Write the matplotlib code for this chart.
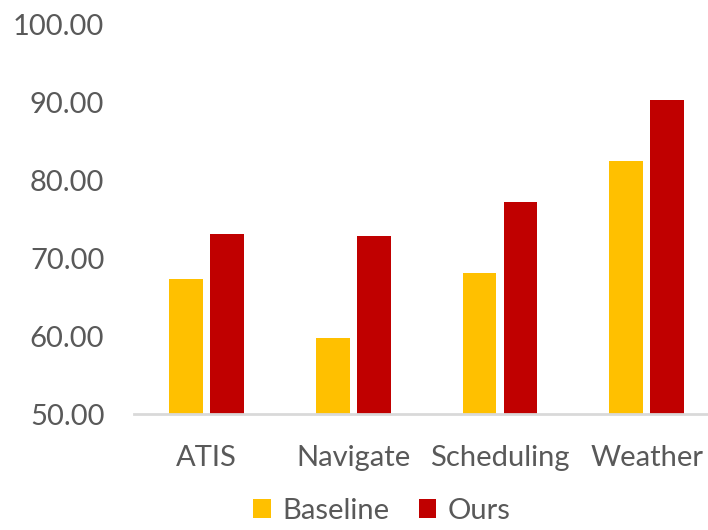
import numpy as np
import matplotlib
matplotlib.use('Agg')
import matplotlib.pyplot as plt

plt.rcParams['font.family'] = ['Lato', 'DejaVu Sans']

categories = ['ATIS', 'Navigate', 'Scheduling', 'Weather']
baseline = [67.4, 59.8, 68.1, 82.5]
ours = [73.2, 72.9, 77.3, 90.4]

fig = plt.figure(figsize=(7.08, 5.30), dpi=100)
ax = fig.add_axes([133.5 / 708, 115.7 / 530, 1 - 133.5 / 708, 389.3 / 530])

x = np.arange(len(categories))
w = 0.23
ax.bar(x - 0.14, [b - 50 for b in baseline], w, bottom=50, color='#FFC000', label='Baseline')
ax.bar(x + 0.14, [o - 50 for o in ours], w, bottom=50, color='#C00000', label='Ours')

ax.set_xlim(-0.5, 3.5 - 12 / 146.7)
ax.set_ylim(50, 100)
ax.set_yticks(range(50, 101, 10))
ax.set_yticklabels(['%.2f' % v for v in range(50, 101, 10)])
ax.set_xticks(x)
ax.set_xticklabels(categories)
ax.tick_params(axis='both', length=0, labelsize=21, colors='#595959')
ax.tick_params(axis='x', pad=22)
ax.tick_params(axis='y', pad=21)

for s in ['top', 'right', 'left']:
    ax.spines[s].set_visible(False)
ax.spines['bottom'].set_color('#D9D9D9')
ax.spines['bottom'].set_linewidth(2)

leg = fig.legend(loc='center', bbox_to_anchor=(382 / 708, 1 - 511 / 530), ncol=2,
                 frameon=False, fontsize=21, handlelength=0.6, handleheight=0.6,
                 handletextpad=0.4, columnspacing=1.0, borderpad=0.2)
for t in leg.get_texts():
    t.set_color('#595959')

fig.savefig('out.png', dpi=100)
